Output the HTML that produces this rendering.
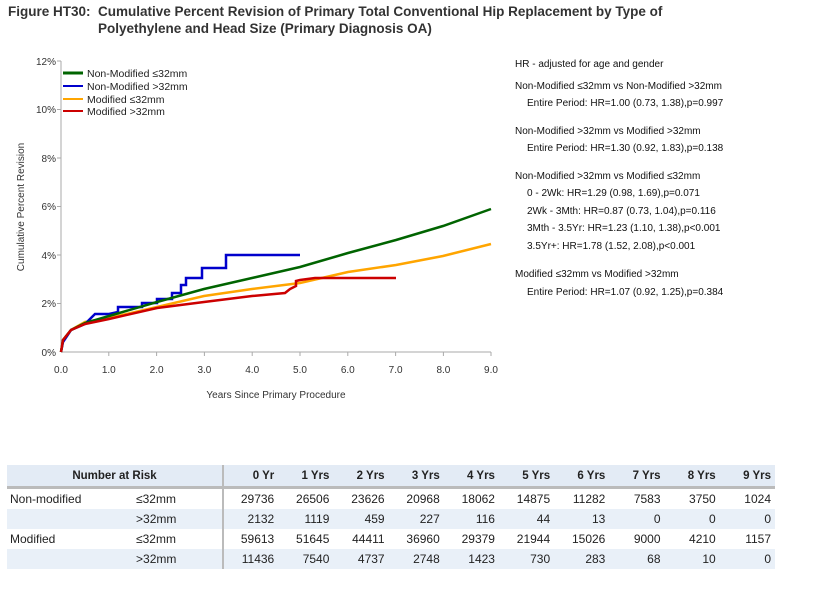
<!DOCTYPE html>
<html><head><meta charset="utf-8"><style>
body{margin:0;background:#fff;font-family:"Liberation Sans",sans-serif;}
.wrap{position:relative;width:830px;height:594px;overflow:hidden}
.title{position:absolute;left:8px;top:3px;font-weight:bold;font-size:13.5px;color:#333;line-height:17px}
.hr{position:absolute;left:515px;font-size:10px;color:#111}
table{position:absolute;left:7px;top:465px;border-collapse:collapse;font-size:12px;color:#222;width:768px;table-layout:fixed}
td,th{padding:0 4px;height:20px;text-align:right;white-space:nowrap}
th{background:#e3ebf5;font-size:11.5px;height:21px;border-bottom:3px solid #bbb}
tr.alt td{background:#e9f0f8}
</style></head><body><div class="wrap">
<div class="title">Figure HT30:&nbsp; Cumulative Percent Revision of Primary Total Conventional Hip Replacement by Type of<br><span style="padding-left:90px">Polyethylene and Head Size (Primary Diagnosis OA)</span></div>
<svg width="830" height="420" style="position:absolute;left:0;top:0" font-family="Liberation Sans, sans-serif" font-size="10" fill="#333">
<line x1="61" y1="61" x2="61" y2="352" stroke="#aaa"/>
<line x1="61" y1="352" x2="491" y2="352" stroke="#aaa"/>
<g text-anchor="end">
<text x="56" y="65">12%</text><text x="56" y="113">10%</text><text x="56" y="162">8%</text><text x="56" y="210">6%</text><text x="56" y="259">4%</text><text x="56" y="307">2%</text><text x="56" y="356">0%</text></g>
<g stroke="#aaa"><line x1="57" y1="61" x2="61" y2="61"/><line x1="57" y1="109.5" x2="61" y2="109.5"/><line x1="57" y1="158" x2="61" y2="158"/><line x1="57" y1="206.5" x2="61" y2="206.5"/><line x1="57" y1="255" x2="61" y2="255"/><line x1="57" y1="303.5" x2="61" y2="303.5"/>
<line x1="108.8" y1="352" x2="108.8" y2="356"/><line x1="156.6" y1="352" x2="156.6" y2="356"/><line x1="204.4" y1="352" x2="204.4" y2="356"/><line x1="252.2" y1="352" x2="252.2" y2="356"/><line x1="300" y1="352" x2="300" y2="356"/><line x1="347.8" y1="352" x2="347.8" y2="356"/><line x1="395.6" y1="352" x2="395.6" y2="356"/><line x1="443.4" y1="352" x2="443.4" y2="356"/><line x1="491" y1="352" x2="491" y2="356"/></g>
<g text-anchor="middle"><text x="61" y="373">0.0</text><text x="108.8" y="373">1.0</text><text x="156.6" y="373">2.0</text><text x="204.4" y="373">3.0</text><text x="252.2" y="373">4.0</text><text x="300" y="373">5.0</text><text x="347.8" y="373">6.0</text><text x="395.6" y="373">7.0</text><text x="443.4" y="373">8.0</text><text x="491" y="373">9.0</text>
<text x="276" y="398">Years Since Primary Procedure</text></g>
<text transform="translate(24,207) rotate(-90)" text-anchor="middle">Cumulative Percent Revision</text>
<g fill="none" stroke-width="2.5">
<polyline stroke="#ffa500" points="61,352 63,340 71,330 85,322 109,318 157,307 204,296 252,289 300,283 348,272 396,265 443,256 491,244"/>
<polyline stroke="#0000cc" points="61,352 63,342 71,330 85,324 95,314 109,314 118,312 118,307 142,307 142,303 157,303 157,299 172,299 172,293 181,293 181,285 186,285 186,278 202,278 202,268 226,268 226,255 300,255"/>
<polyline stroke="#006400" points="61,352 63,340 71,330 85,323 109,316 157,302 204,289 252,278 300,267 348,253 396,240 443,226 491,209"/>
<polyline stroke="#cc0000" points="61,352 63,340 71,330 85,324 109,319 157,308 204,302 252,296 285,293 290,289 296,286 296,281 300,280 315,278 396,278"/>
</g>
<g font-size="10.5" fill="#222">
<line x1="63" y1="73" x2="83" y2="73" stroke="#006400" stroke-width="3"/><text x="87" y="77">Non-Modified ≤32mm</text>
<line x1="63" y1="86" x2="83" y2="86" stroke="#0000cc" stroke-width="2"/><text x="87" y="90">Non-Modified &gt;32mm</text>
<line x1="63" y1="99" x2="83" y2="99" stroke="#ffa500" stroke-width="2"/><text x="87" y="103">Modified ≤32mm</text>
<line x1="63" y1="111" x2="83" y2="111" stroke="#cc0000" stroke-width="2"/><text x="87" y="115">Modified &gt;32mm</text>
</g></svg>
<div class="hr" style="top:59px">HR - adjusted for age and gender</div>
<div class="hr" style="top:81px">Non-Modified ≤32mm vs Non-Modified &gt;32mm</div>
<div class="hr" style="top:98px;left:527px">Entire Period: HR=1.00 (0.73, 1.38),p=0.997</div>
<div class="hr" style="top:126px">Non-Modified &gt;32mm vs Modified &gt;32mm</div>
<div class="hr" style="top:143px;left:527px">Entire Period: HR=1.30 (0.92, 1.83),p=0.138</div>
<div class="hr" style="top:171px">Non-Modified &gt;32mm vs Modified ≤32mm</div>
<div class="hr" style="top:188px;left:527px">0 - 2Wk: HR=1.29 (0.98, 1.69),p=0.071</div>
<div class="hr" style="top:206px;left:527px">2Wk - 3Mth: HR=0.87 (0.73, 1.04),p=0.116</div>
<div class="hr" style="top:223px;left:527px">3Mth - 3.5Yr: HR=1.23 (1.10, 1.38),p&lt;0.001</div>
<div class="hr" style="top:241px;left:527px">3.5Yr+: HR=1.78 (1.52, 2.08),p&lt;0.001</div>
<div class="hr" style="top:269px">Modified ≤32mm vs Modified &gt;32mm</div>
<div class="hr" style="top:287px;left:527px">Entire Period: HR=1.07 (0.92, 1.25),p=0.384</div>
<table>
<colgroup><col style="width:125px"><col style="width:91px"><col span="10" style="width:55.2px"></colgroup>
<tr><th colspan="2" style="text-align:center;border-right:2px solid #bbb">Number at Risk</th><th>0 Yr</th><th>1 Yrs</th><th>2 Yrs</th><th>3 Yrs</th><th>4 Yrs</th><th>5 Yrs</th><th>6 Yrs</th><th>7 Yrs</th><th>8 Yrs</th><th>9 Yrs</th></tr>
<tr><td style="text-align:left;padding-left:3px">Non-modified</td><td style="text-align:left;border-right:2px solid #bbb">≤32mm</td><td>29736</td><td>26506</td><td>23626</td><td>20968</td><td>18062</td><td>14875</td><td>11282</td><td>7583</td><td>3750</td><td>1024</td></tr>
<tr class="alt"><td></td><td style="text-align:left;border-right:2px solid #bbb">&gt;32mm</td><td>2132</td><td>1119</td><td>459</td><td>227</td><td>116</td><td>44</td><td>13</td><td>0</td><td>0</td><td>0</td></tr>
<tr><td style="text-align:left;padding-left:3px">Modified</td><td style="text-align:left;border-right:2px solid #bbb">≤32mm</td><td>59613</td><td>51645</td><td>44411</td><td>36960</td><td>29379</td><td>21944</td><td>15026</td><td>9000</td><td>4210</td><td>1157</td></tr>
<tr class="alt"><td></td><td style="text-align:left;border-right:2px solid #bbb">&gt;32mm</td><td>11436</td><td>7540</td><td>4737</td><td>2748</td><td>1423</td><td>730</td><td>283</td><td>68</td><td>10</td><td>0</td></tr>
</table>
</div></body></html>
